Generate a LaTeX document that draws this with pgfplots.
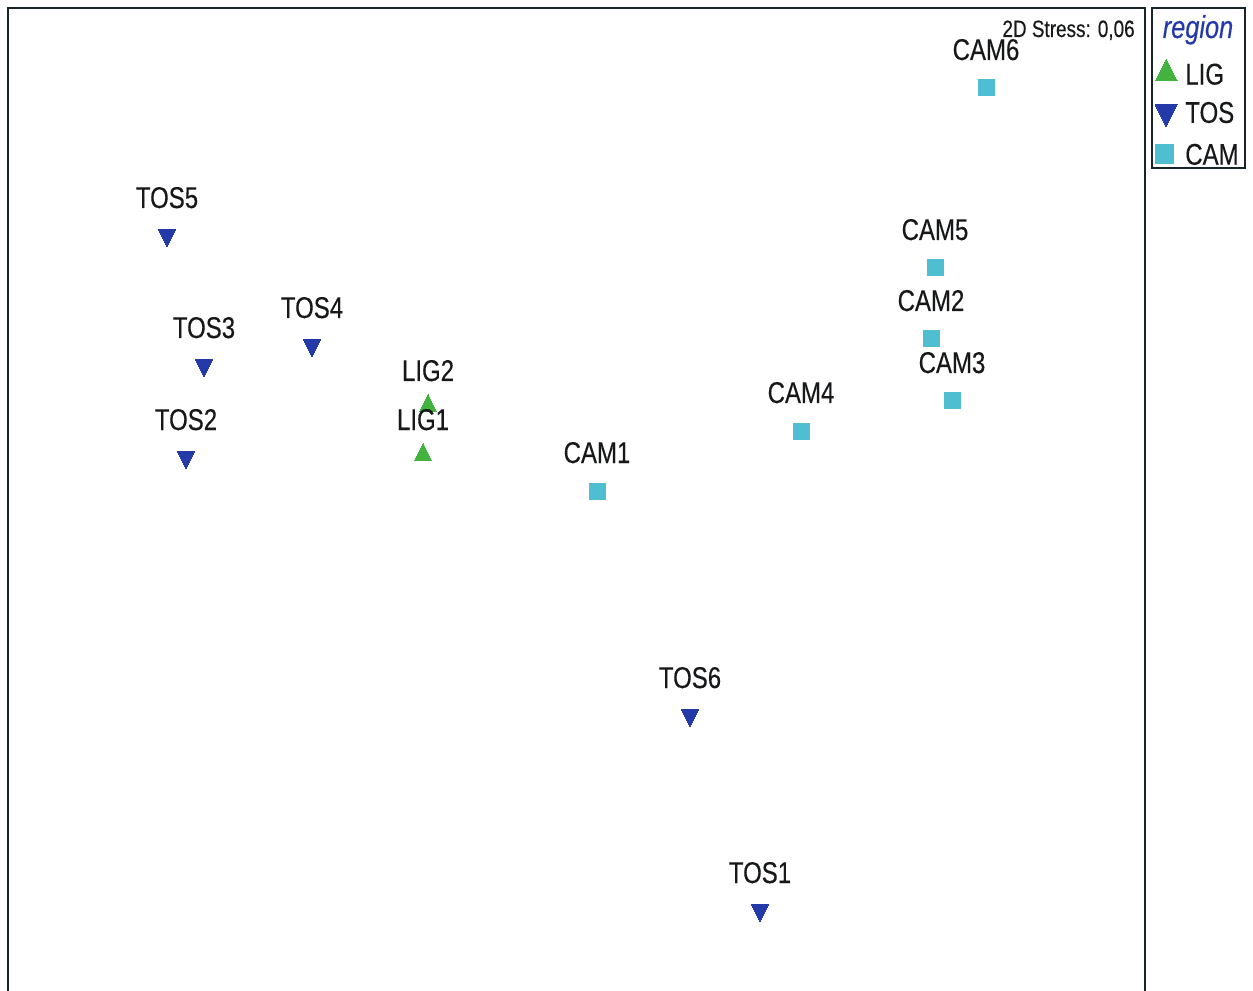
\documentclass[border=0pt]{standalone}
\usepackage{pgfplots}
\pgfplotsset{compat=1.18}
\usepackage{fontspec}
\setmainfont{Liberation Sans}
\newfontfamily\lab{Liberation Sans}[FakeStretch=0.8, FakeBold=0.3]

\definecolor{ligg}{RGB}{68,178,62}
\definecolor{tosb}{RGB}{36,58,168}
\definecolor{camc}{RGB}{78,190,208}
\definecolor{ink}{RGB}{22,24,26}
\definecolor{frame}{RGB}{24,36,40}

\newcommand{\labfont}{\lab\fontsize{18pt}{21.6pt}\selectfont\color{ink}}

\begin{document}
\begin{tikzpicture}
\useasboundingbox (0,0) rectangle (751.8pt,594pt);
\begin{axis}[
  at={(4.8pt,0pt)}, anchor=south west,
  width=682.2pt, height=589.2pt, scale only axis,
  xmin=8, xmax=1145, ymin=8, ymax=990, y dir=reverse,
  hide axis, clip=false,
  legend style={at={(axis cs:1155,59)}, anchor=north west,
    draw=none, fill=none, inner sep=0pt,
    nodes={inner sep=0pt, text height=13pt, text depth=0pt, anchor=west, font=\labfont},
    row sep=10pt,
    /tikz/every odd column/.append style={column sep=5pt}},
  nodes near coords, point meta=explicit symbolic,
]
% LIG sites
\addplot[only marks, mark=triangle*,
  mark options={fill=ligg, draw=ligg, line width=0pt, yscale=1.15}, mark size=6pt,
  nodes near coords style={anchor=base, yshift=15pt, font=\labfont},
  legend image post style={scale=1.25}]
  table[meta=label] {
x y label
428 406 LIG2
423 455 LIG1
};
\addlegendentry{LIG}
% TOS sites
\addplot[only marks, mark=triangle*,
  mark options={fill=tosb, draw=tosb, line width=0pt, rotate=180, yscale=1.15}, mark size=6pt,
  nodes near coords style={anchor=base, yshift=16.2pt, font=\labfont},
  legend image post style={scale=1.25}]
  table[meta=label] {
x y label
167 235 TOS5
204 365 TOS3
312 345 TOS4
186 457 TOS2
690 715 TOS6
760 910 TOS1
};
\addlegendentry{TOS}
% CAM sites
\addplot[only marks, mark=square*,
  mark options={fill=camc, draw=camc, line width=0pt}, mark size=4.8pt,
  nodes near coords style={anchor=base, yshift=16.8pt, font=\labfont},
  legend image post style={scale=1.15}]
  table[meta=label] {
x y label
986 88 CAM6
935 268 CAM5
931 339 CAM2
952 401 CAM3
801 431 CAM4
597 491 CAM1
};
\addlegendentry{CAM}

% plot frame (open at the bottom edge) and legend box
\draw[frame, line width=1.2pt] (axis cs:8,995) -- (axis cs:8,8) -- (axis cs:1145,8) -- (axis cs:1145,995);
\draw[frame, line width=1.2pt] (axis cs:1152,8) rectangle (axis cs:1245,168);
\node[anchor=base, font=\lab\fontsize{19pt}{22pt}\selectfont\itshape, text=tosb, inner sep=0pt]
  at (axis cs:1198,38) {region};
\node[anchor=base east, font=\lab\fontsize{14.2pt}{17pt}\selectfont, text=ink, inner sep=0pt]
  at (axis cs:1135,37) {2D Stress: 0,06};
\end{axis}
\end{tikzpicture}
\end{document}
